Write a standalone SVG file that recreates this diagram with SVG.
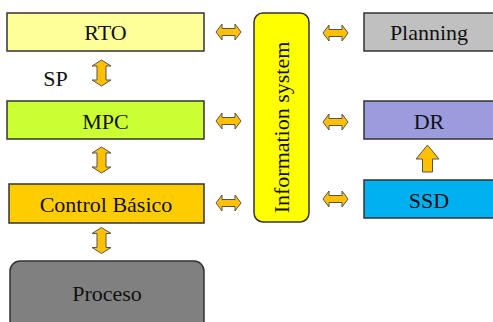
<svg xmlns="http://www.w3.org/2000/svg" xmlns:xlink="http://www.w3.org/1999/xlink" width="493" height="322" viewBox="0 0 493 322">
<style>
.box{stroke:#333;stroke-width:1.5}
.lbl{font-family:"Liberation Serif","Times New Roman",serif;font-size:22px;fill:#111;text-anchor:middle}
.arr{fill:#ffc000;stroke:#555;stroke-width:1;stroke-linejoin:miter}
</style>
<defs>
<polygon id="hArr" class="arr" points="-12.5,0 -6.5,-8 -6.5,-3.5 6.5,-3.5 6.5,-8 12.5,0 6.5,8 6.5,3.5 -6.5,3.5 -6.5,8"/>
<polygon id="vArr" class="arr" points="0,-13 9.5,-7 4.5,-7 4.5,7 9.5,7 0,13 -9.5,7 -4.5,7 -4.5,-7 -9.5,-7"/>
<polygon id="upArr" class="arr" points="0,-14 11.5,0 5,0 5,13 -5,13 -5,0 -11.5,0"/>
</defs>
<g id="rto"><rect class="box" x="7" y="13" width="197" height="38" fill="#ffff99"/><text class="lbl" x="105.5" y="40">RTO</text></g>
<g id="mpc"><rect class="box" x="7" y="101" width="197" height="38" fill="#ccff33"/><text class="lbl" x="105.5" y="129">MPC</text></g>
<g id="cb"><rect class="box" x="9" y="184" width="195" height="39" fill="#ffcc00"/><text class="lbl" x="106" y="212">Control Básico</text></g>
<g id="proceso"><rect class="box" x="10" y="261" width="194" height="75" rx="10" fill="#808080"/><text class="lbl" x="107" y="301">Proceso</text></g>
<g id="sp"><text class="lbl" x="55.5" y="86">SP</text></g>
<g id="info"><rect class="box" x="254" y="13" width="55" height="209" rx="9" fill="#ffff00"/><text class="lbl" transform="translate(289,127.5) rotate(-90)" x="0" y="0">Information system</text></g>
<g id="planning"><rect class="box" x="364" y="13" width="132" height="38" fill="#c0c0c0"/><text class="lbl" x="429" y="40">Planning</text></g>
<g id="dr"><rect class="box" x="364" y="101" width="132" height="38" fill="#9b9bde"/><text class="lbl" x="429" y="128.5">DR</text></g>
<g id="ssd"><rect class="box" x="364" y="180" width="132" height="38" fill="#00b0f0"/><text class="lbl" x="429" y="207.5">SSD</text></g>
<g id="connectors">
<use xlink:href="#hArr" x="228.5" y="32"/>
<use xlink:href="#hArr" x="228.5" y="121"/>
<use xlink:href="#hArr" x="228.5" y="203"/>
<use xlink:href="#hArr" x="335.5" y="33"/>
<use xlink:href="#hArr" x="335.5" y="122"/>
<use xlink:href="#hArr" x="335.5" y="199"/>
<use xlink:href="#vArr" x="101.5" y="73"/>
<use xlink:href="#vArr" x="101.5" y="160"/>
<use xlink:href="#vArr" x="101.5" y="240.5"/>
<use xlink:href="#upArr" x="427.5" y="159"/>
</g>
</svg>
